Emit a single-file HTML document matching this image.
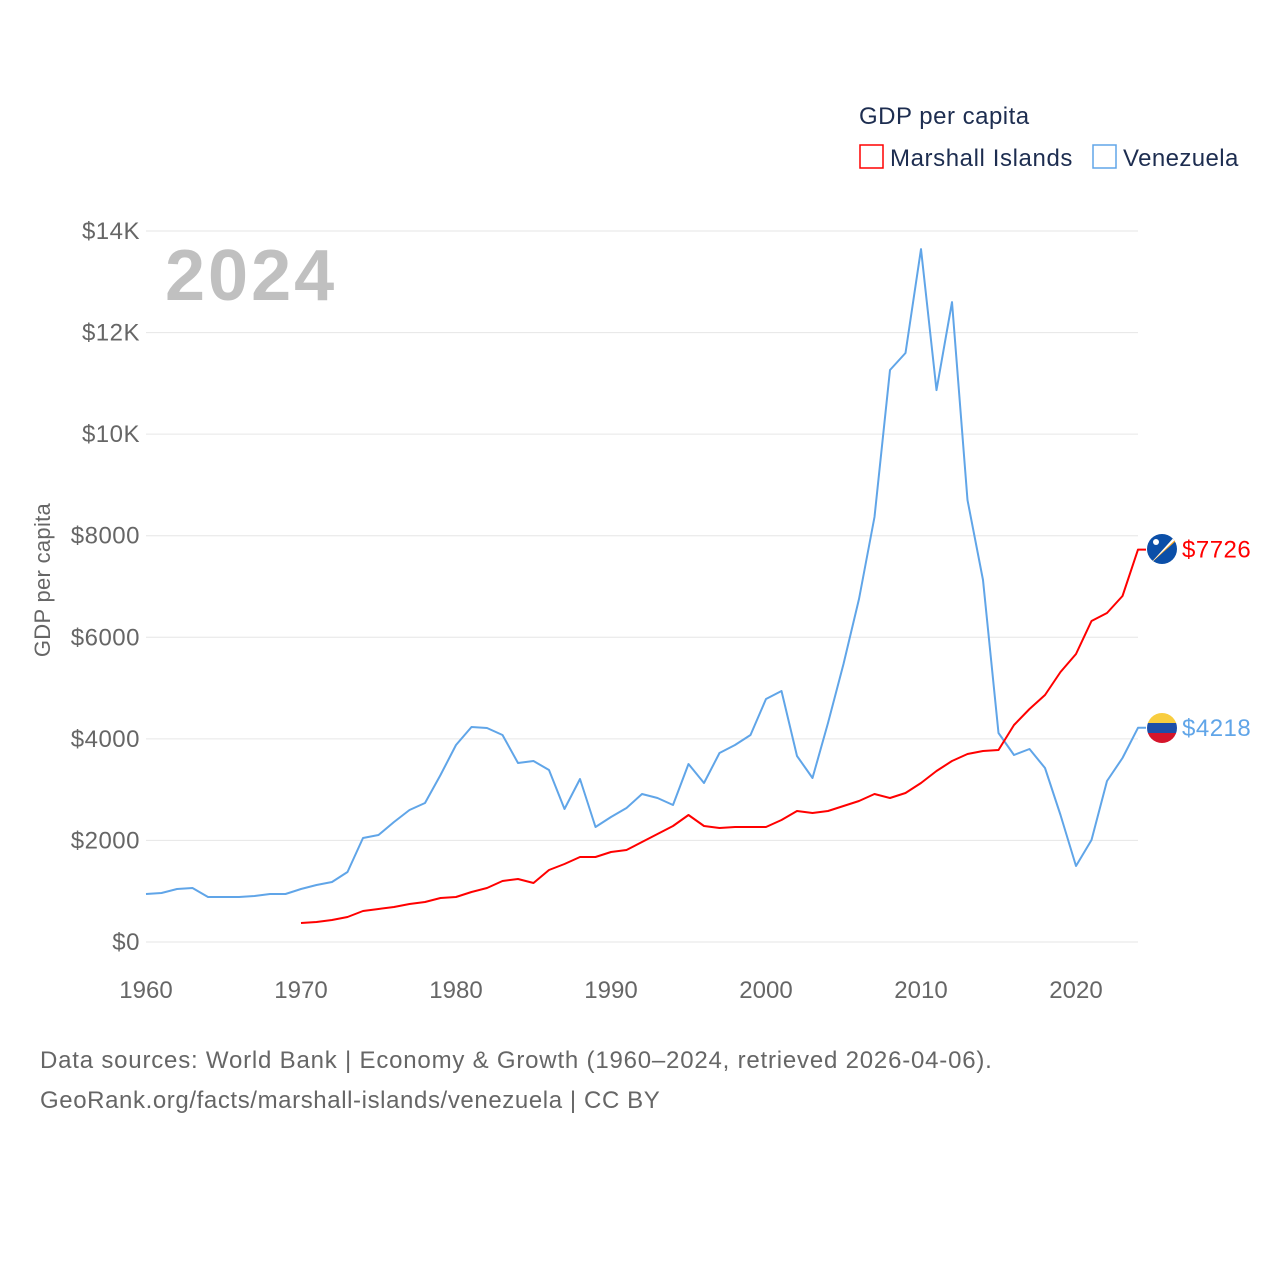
<!DOCTYPE html>
<html><head><meta charset="utf-8"><style>
body{margin:0;background:#fff;width:1280px;height:1280px;overflow:hidden;font-family:"Liberation Sans",sans-serif}
</style></head><body>
<svg id="chart" width="1280" height="1280" xmlns="http://www.w3.org/2000/svg" font-family="Liberation Sans, sans-serif">
<text x="859" y="124" font-size="24" letter-spacing="0.5" fill="#1d2d50">GDP per capita</text>
<g><rect x="860" y="145" width="23" height="23" fill="none" stroke="#ff0000" stroke-width="1.5"/><text x="890" y="166" font-size="24" letter-spacing="0.6" fill="#1d2d50">Marshall Islands</text></g>
<g><rect x="1093" y="145" width="23" height="23" fill="none" stroke="#60a5e8" stroke-width="1.5"/><text x="1123" y="166" font-size="24" letter-spacing="0.4" fill="#1d2d50">Venezuela</text></g>
<text x="165" y="300" font-size="72" font-weight="bold" letter-spacing="3" fill="#c0c0c0">2024</text>
<text transform="translate(50,580) rotate(-90)" text-anchor="middle" font-size="22" letter-spacing="0.3" fill="#666">GDP per capita</text>
<g id="grid"></g><g id="series"></g>
<text x="40" y="1068" font-size="24" letter-spacing="0.8" fill="#666">Data sources: World Bank | Economy &amp; Growth (1960–2024, retrieved 2026-04-06).</text>
<text x="40" y="1108" font-size="24" letter-spacing="0.6" fill="#666">GeoRank.org/facts/marshall-islands/venezuela | CC BY</text>
<g><clipPath id="c1"><circle cx="1162" cy="549" r="15"/></clipPath><g clip-path="url(#c1)"><rect x="1147" y="534" width="30" height="30" fill="#0b4fa8"/><polygon points="1150,564 1177,534 1177,540" fill="#f7a21b"/><polygon points="1150,564 1177,538 1177,534" fill="#fff"/><circle cx="1156" cy="542" r="3" fill="#fff"/></g></g>
<g><clipPath id="c2"><circle cx="1162" cy="728" r="15"/></clipPath><g clip-path="url(#c2)"><rect x="1147" y="713" width="30" height="10" fill="#f8cd3f"/><rect x="1147" y="723" width="30" height="10" fill="#1e4fa8"/><rect x="1147" y="733" width="30" height="10" fill="#d5152b"/></g></g>
</svg>
<script>
const years=[];for(let y=1960;y<=2024;y++)years.push(y);
const venezuela=[945,965,1043,1063,886,886,886,906,945,945,1043,1122,1181,1378,2048,2107,2363,2600,2737,3288,3879,4233,4213,4076,3524,3564,3386,2619,3209,2264,2461,2638,2914,2835,2697,3505,3130,3721,3879,4076,4784,4942,3662,3229,4312,5473,6753,8368,11262,11597,13644,10868,12600,8702,7127,4115,3682,3800,3426,2500,1496,2008,3170,3623,4218];
const marshallYears=[];for(let y=1970;y<=2024;y++)marshallYears.push(y);
const marshall=[374,394,433,492,610,650,689,748,788,866,886,984,1063,1201,1240,1161,1417,1536,1674,1674,1772,1811,1969,2126,2284,2500,2284,2244,2264,2264,2264,2402,2579,2540,2579,2678,2776,2914,2835,2933,3130,3367,3564,3702,3761,3780,4272,4587,4863,5316,5670,6320,6478,6812,7726];
const yTicks=[0,2000,4000,6000,8000,10000,12000,14000];
const yTickLabels=["$0","$2000","$4000","$6000","$8000","$10K","$12K","$14K"];
const xTicks=[1960,1970,1980,1990,2000,2010,2020];
const X=y=>146+(y-1960)*15.5;
const Y=v=>942-v*0.050786;
const NS="http://www.w3.org/2000/svg";
const grid=document.getElementById('grid'),series=document.getElementById('series');
function mk(t,a,p){const e=document.createElementNS(NS,t);for(const k in a)e.setAttribute(k,a[k]);p.appendChild(e);return e;}
yTicks.forEach((v,i)=>{
 const l=mk('line',{x1:146,x2:1138,y1:Y(v),y2:Y(v),stroke:'#e6e6e6','stroke-width':1},grid);
 
 
 const t=mk('text',{x:140,y:Y(v)+8,'text-anchor':'end','font-size':24,'letter-spacing':0.5,fill:'#666'},grid);
 t.textContent=yTickLabels[i];
 
 
});
xTicks.forEach(y=>{
 const t=mk('text',{x:X(y),y:998,'text-anchor':'middle','font-size':24,fill:'#666'},grid);
 t.textContent=y;
 
 
});
function line(xs,vs,color,name){
 let d=xs.map((y,i)=>(i?'L':'M')+X(y).toFixed(1)+','+Y(vs[i]).toFixed(1)).join(' ');
 d+=' L'+(X(xs[xs.length-1])+8)+','+Y(vs[vs.length-1]).toFixed(1);
 const p=mk('path',{d:d,fill:'none',stroke:color,'stroke-width':2,'stroke-linejoin':'round'},series);
 
 
 const t=mk('text',{x:1182,y:Y(vs[vs.length-1])+8,'font-size':24,'letter-spacing':0.5,fill:color},series);
 t.textContent='$'+vs[vs.length-1];
 
 
}
line(years,venezuela,'#60a5e8','venezuela-line');
line(marshallYears,marshall,'#ff0000','marshall-line');
</script>
</body></html>
